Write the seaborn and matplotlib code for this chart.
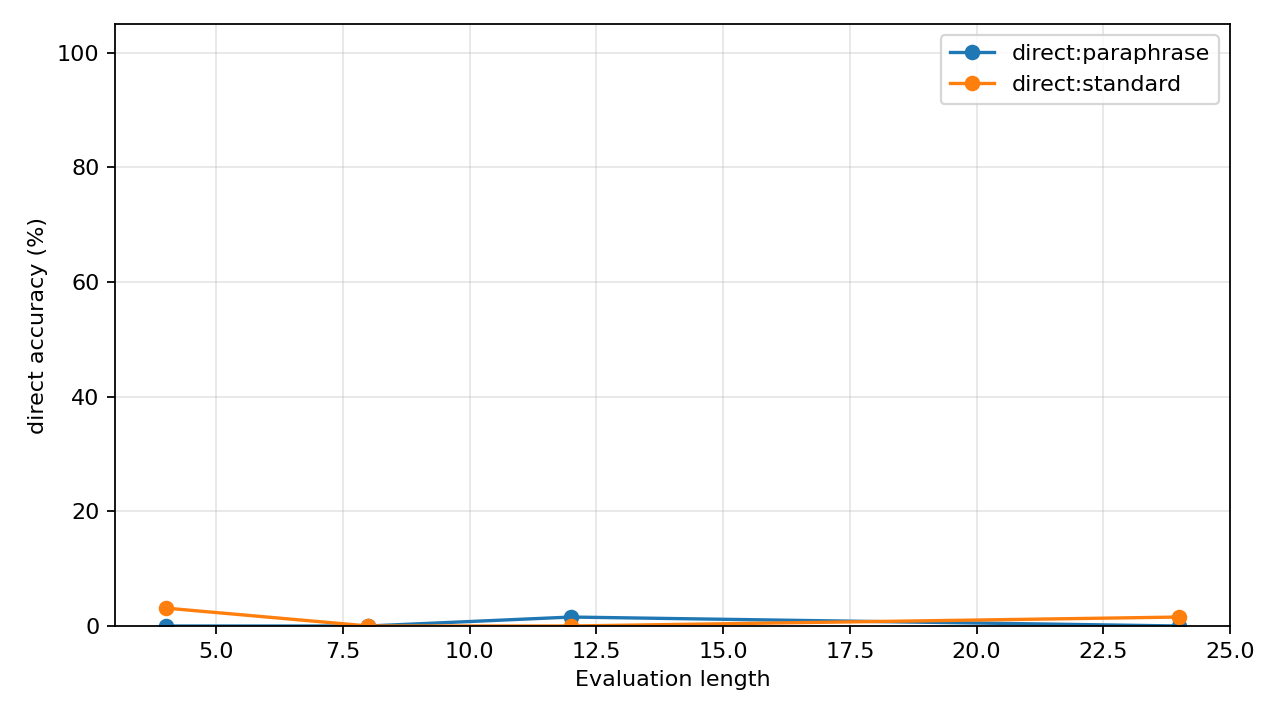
import pandas as pd
import matplotlib.pyplot as plt
import seaborn as sns

# === data ===
eval_length = [4, 8, 12, 24]
paraphrase_acc = [0.0, 0.0, 1.5625, 0.0]
standard_acc = [3.125, 0.0, 0.0, 1.5625]

df = pd.DataFrame({
    "length": eval_length * 2,
    "acc": paraphrase_acc + standard_acc,
    "series": ["direct:paraphrase"] * 4 + ["direct:standard"] * 4,
})

plt.rcParams["font.family"] = ["DejaVu Sans"]
fig, ax = plt.subplots(figsize=(8, 4.5), dpi=160)
fig.subplots_adjust(left=115 / 1280, right=1230 / 1280, top=1 - 24 / 720, bottom=1 - 626 / 720)

sns.lineplot(data=df, x="length", y="acc", hue="series",
             palette=["#1f77b4", "#ff7f0e"], marker="o", markersize=7,
             markeredgewidth=0, linewidth=1.5, ax=ax)

ax.set_xlim(3, 25)
ax.set_ylim(0, 105)
ax.grid(True, alpha=0.3)
ax.set_xlabel("Evaluation length")
ax.set_ylabel("direct accuracy (%)")
ax.legend(loc="upper right")

plt.savefig("out.png")
